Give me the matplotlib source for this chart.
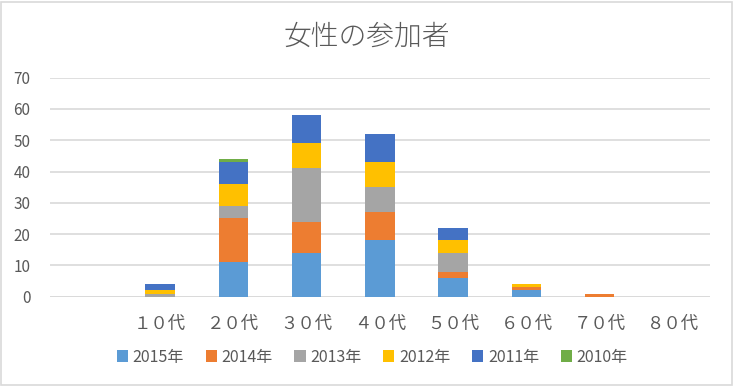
import matplotlib
matplotlib.use("Agg")
import matplotlib.pyplot as plt
from matplotlib.patches import Rectangle
import numpy as np

plt.rcParams['font.family'] = ['Noto Sans CJK JP', 'DejaVu Sans']

categories = ["", "１０代", "２０代", "３０代", "４０代", "５０代", "６０代", "７０代", "８０代"]
series_names = ["2015年", "2014年", "2013年", "2012年", "2011年", "2010年"]
v2015 = [0, 0, 11, 14, 18, 6, 2, 0, 0]
v2014 = [0, 0, 14, 10, 9, 2, 1, 1, 0]
v2013 = [0, 1, 4, 17, 8, 6, 0, 0, 0]
v2012 = [0, 1, 7, 8, 8, 4, 1, 0, 0]
v2011 = [0, 2, 7, 9, 9, 4, 0, 0, 0]
v2010 = [0, 0, 1, 0, 0, 0, 0, 0, 0]
series_values = [v2015, v2014, v2013, v2012, v2011, v2010]
colors = ["#5B9BD5", "#ED7D31", "#A5A5A5", "#FFC000", "#4472C4", "#70AD47"]

fig = plt.figure(figsize=(7.34, 3.86), dpi=100)
ax = fig.add_axes([0.068, 0.2313, 0.899, 0.5674])

x = np.arange(len(categories))
bottom = np.zeros(len(categories))
for name, vals, c in zip(series_names, series_values, colors):
    vals = np.array(vals, dtype=float)
    ax.bar(x, vals, width=0.4, bottom=bottom, color=c, label=name, zorder=3)
    bottom += vals

ax.set_xlim(-0.5, len(categories) - 0.5)
ax.set_ylim(0, 70)
ax.set_yticks(range(0, 71, 10))
ax.yaxis.grid(True, color="#D9D9D9", linewidth=1.2, zorder=0)
ax.set_axisbelow(True)
for s in ax.spines.values():
    s.set_visible(False)
ax.axhline(0, color="#D9D9D9", linewidth=1.2, zorder=1)
ax.set_xticks(x)
ax.set_xticklabels(categories)
ax.tick_params(axis='both', length=0, colors="#595959", labelsize=11)
ax.tick_params(axis='x', labelsize=12.5, pad=13)
ax.tick_params(axis='y', pad=14)

fig.text(0.5, 0.905, "女性の参加者", ha="center", va="center", fontsize=20,
         color="#595959", fontweight="light")

leg = fig.legend(loc="center", bbox_to_anchor=(0.507, 0.075), ncol=6, frameon=False,
                 fontsize=11.5, handlelength=0.7, handleheight=0.7, handletextpad=0.3,
                 columnspacing=1.35, labelcolor="#595959")

fig.patches.append(Rectangle((0.002, 0.003), 0.995, 0.993, transform=fig.transFigure,
                             fill=False, edgecolor="#D9D9D9", linewidth=1.2))

fig.savefig("out.png", dpi=100)
